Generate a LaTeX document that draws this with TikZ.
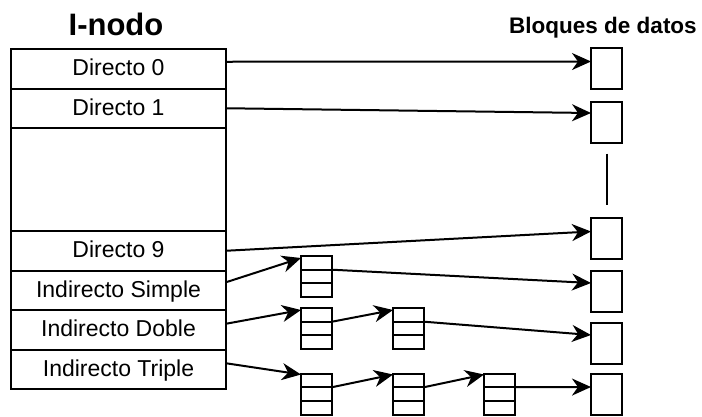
\documentclass[tikz,border=0pt]{standalone}
\usepackage{fontspec}
\setmainfont{Liberation Sans}
\usetikzlibrary{arrows.meta,positioning,calc}

\begin{document}
\begin{tikzpicture}[
  x=1pt, y=-1pt,
  line width=2pt,
  celda/.style={draw, minimum width=215pt, minimum height=39.5pt, inner sep=0pt,
    outer sep=0pt, text height=16.5pt, text depth=3pt,
    font=\fontsize{23}{27}\selectfont},
  bloque/.style={draw, minimum width=31pt, minimum height=41pt, inner sep=0pt,
    outer sep=0pt},
  indice/.style={bloque, path picture={
      \foreach \f in {1/3,2/3}
        \draw ($(path picture bounding box.north west)!\f!(path picture bounding box.south west)$)
          -- ($(path picture bounding box.north east)!\f!(path picture bounding box.south east)$);}},
  titulo/.style={anchor=base, inner sep=0pt},
  arr/.style={-{Stealth[length=19pt, width=17pt, inset=6pt]}},
  node distance=0pt
]
\useasboundingbox (0,0) rectangle (702,416);

% tabla del i-nodo
\node[titulo, font=\bfseries\fontsize{31}{36}\selectfont] (inodo) at (116,35) {I-nodo};
\node[celda] (dir0) at (118.5,68.75) {Directo 0};
\node[celda, below=of dir0] (dir1) {Directo 1};
\node[celda, below=of dir1, minimum height=103pt] (hueco) {};
\node[celda, below=of hueco] (dir9) {Directo 9};
\node[celda, below=of dir9] (simple) {Indirecto Simple};
\node[celda, below=of simple] (doble) {Indirecto Doble};
\node[celda, below=of doble] (triple) {Indirecto Triple};

% bloques de datos
\node[titulo, font=\bfseries\fontsize{22.5}{27}\selectfont] (datos) at (603,33) {Bloques de datos};
\node[bloque] (b0) at (606.5,68.5) {};
\node[bloque] (b1) at (606.5,122) {};
\node[bloque] (b9) at (606.5,238.5) {};
\node[bloque] (bs) at (606.5,291) {};
\node[bloque] (bd) at (606.5,343) {};
\node[bloque] (bt) at (606.5,394.5) {};
\draw ([yshift=-11pt]b1.south) -- ([yshift=13pt]b9.north);

% bloques de indices
\node[indice] (s1) at (316.5,276.5) {};
\node[indice] (db1) at (316.5,328.5) {};
\node[indice] (db2) at (408.5,328.5) {};
\node[indice] (tr1) at (316.5,394) {};
\node[indice] (tr2) at (408.5,394) {};
\node[indice] (tr3) at (499.5,394) {};

% punteros directos
\draw[arr] ([yshift=7pt]dir0.east) -- ([yshift=7pt]b0.west);
\draw[arr] (dir1.east) -- ([yshift=9pt]b1.west);
\draw[arr] (dir9.east) -- ([yshift=7pt]b9.west);

% punteros indirectos
\draw[arr] ([yshift=8pt]simple.east) -- ([yshift=-2pt]s1.north west);
\draw[arr] ([yshift=6.8pt]s1.east) -- ([yshift=8pt]bs.west);
\draw[arr] ([yshift=6pt]doble.east) -- ([yshift=-2pt]db1.north west);
\draw[arr] ([yshift=6.8pt]db1.east) -- ([yshift=-2pt]db2.north west);
\draw[arr] ([yshift=6.8pt]db2.east) -- ([yshift=8pt]bd.west);
\draw[arr] ([yshift=6pt]triple.east) -- ([yshift=-1pt]tr1.north west);
\draw[arr] ([yshift=6.8pt]tr1.east) -- ([yshift=-1pt]tr2.north west);
\draw[arr] ([yshift=6.8pt]tr2.east) -- ([yshift=-1pt]tr3.north west);
\draw[arr] ([yshift=6.8pt]tr3.east) -- ([yshift=7.5pt]bt.west);
\end{tikzpicture}
\end{document}
